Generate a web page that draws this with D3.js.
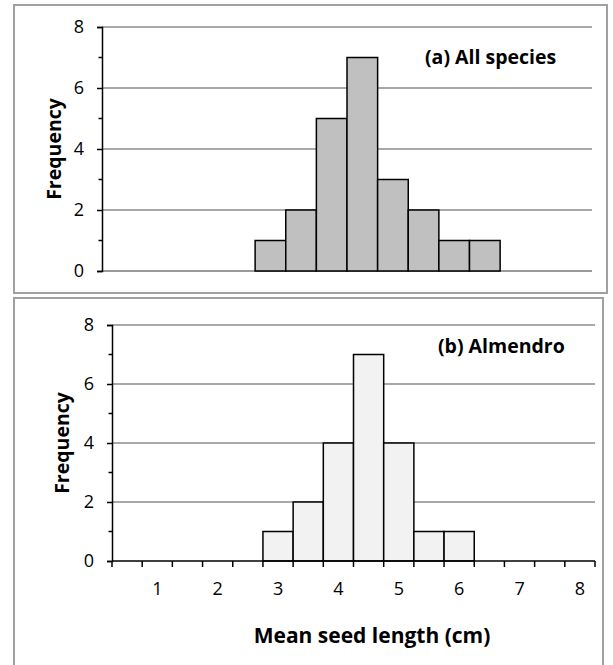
<!DOCTYPE html>
<html>
<head>
<meta charset="utf-8">
<script src="https://cdn.jsdelivr.net/npm/d3@7"></script>
<style>
  html, body { margin: 0; padding: 0; background: #ffffff; }
  svg { display: block; }
  text { font-family: "Open Sans", "Liberation Sans", sans-serif; fill: #000; }
</style>
</head>
<body>
<svg id="chart" width="613" height="665"></svg>
<script>
// ---- Data ----
const bins = [0.5, 1, 1.5, 2, 2.5, 3, 3.5, 4, 4.5, 5, 5.5, 6, 6.5, 7, 7.5, 8];
const allSpecies = [0, 0, 0, 0, 0, 1, 2, 5, 7, 3, 2, 1, 1, 0, 0, 0];
const almendro   = [0, 0, 0, 0, 0, 1, 2, 4, 7, 4, 1, 1, 0, 0, 0, 0];
const yMajorTicks = [0, 2, 4, 6, 8];
const yMinorTicks = [1, 3, 5, 7];
const xTickLabels = [1, 2, 3, 4, 5, 6, 7, 8];
const panelTitles = ["(a) All species", "(b) Almendro"];
const yTitle = "Frequency";
const xTitle = "Mean seed length (cm)";

const svg = d3.select("#chart");

function panel(cfg) {
  const g = svg.append("g");
  // frame
  g.append("rect")
    .attr("x", cfg.box[0]).attr("y", cfg.box[1])
    .attr("width", cfg.box[2]).attr("height", cfg.box[3])
    .attr("fill", "#fff").attr("stroke", "#a0a0a0").attr("stroke-width", 2);

  const x = d3.scaleBand().domain(bins).range([cfg.x0, cfg.x1]).padding(0);
  const y = d3.scaleLinear().domain([0, 8]).range([cfg.y0, cfg.y1]);

  // gridlines
  g.append("g").selectAll("line").data(yMajorTicks.filter(v => v > 0))
    .join("line")
    .attr("x1", cfg.x0).attr("x2", cfg.x1)
    .attr("y1", d => y(d)).attr("y2", d => y(d))
    .attr("stroke", "#8c8c8c").attr("stroke-width", 1.5);

  if (!cfg.showXAxis) {
    g.append("line").attr("x1", cfg.x0).attr("x2", cfg.x1)
      .attr("y1", y(0)).attr("y2", y(0))
      .attr("stroke", "#7a7a7a").attr("stroke-width", 1.5);
  }

  // bars
  const data = bins.map((b, i) => ({ b, v: cfg.values[i] })).filter(d => d.v > 0);
  g.append("g").selectAll("rect").data(data).join("rect")
    .attr("x", d => x(d.b)).attr("width", x.bandwidth())
    .attr("y", d => y(d.v)).attr("height", d => y(0) - y(d.v))
    .attr("fill", cfg.fill).attr("stroke", "#000").attr("stroke-width", 1.5);

  // y axis (major ticks)
  const yAxis = d3.axisLeft(y).tickValues(yMajorTicks).tickSize(5).tickPadding(13)
    .tickFormat(d3.format("d"));
  const ya = g.append("g").attr("transform", `translate(${cfg.x0},0)`).call(yAxis);
  ya.select(".domain").attr("stroke", "#000").attr("stroke-width", 1.5);
  ya.selectAll(".tick line").attr("stroke", "#000").attr("stroke-width", 1.5);
  ya.selectAll(".tick text").style("font-size", "18px").style("font-family", "Open Sans");
  // minor ticks
  g.append("g").selectAll("line").data(yMinorTicks).join("line")
    .attr("x1", cfg.x0 - 3.5).attr("x2", cfg.x0)
    .attr("y1", d => y(d)).attr("y2", d => y(d))
    .attr("stroke", "#000").attr("stroke-width", 1.5);

  if (cfg.showXAxis) {
    const xAxis = d3.axisBottom(x).tickSize(0).tickPadding(21)
      .tickFormat(d => xTickLabels.includes(d) ? String(d) : "");
    const xa = g.append("g").attr("transform", `translate(0,${y(0)})`).call(xAxis);
    xa.select(".domain").remove();
    xa.selectAll(".tick text").style("font-size", "18px").style("font-family", "Open Sans");
    // axis line
    g.append("line").attr("x1", cfg.x0).attr("x2", cfg.x1)
      .attr("y1", y(0)).attr("y2", y(0))
      .attr("stroke", "#000").attr("stroke-width", 1.5);
    // tick marks at category boundaries
    const edges = bins.map(b => x(b)).concat([x(bins[bins.length - 1]) + x.bandwidth()]);
    g.append("g").selectAll("line").data(edges).join("line")
      .attr("x1", d => d).attr("x2", d => d)
      .attr("y1", y(0)).attr("y2", y(0) + 6)
      .attr("stroke", "#000").attr("stroke-width", 1.5);
    g.append("text")
      .attr("x", cfg.xTitleX).attr("y", cfg.xTitleY)
      .attr("text-anchor", "middle")
      .style("font-size", "21px").style("font-weight", "bold")
      .text(xTitle);
  }

  // y title
  g.append("text")
    .attr("transform", `translate(${cfg.yTitleX},${(cfg.y0 + cfg.y1) / 2}) rotate(-90)`)
    .attr("text-anchor", "middle")
    .style("font-size", "19.5px").style("font-weight", "bold")
    .text(yTitle);

  // panel title
  g.append("text")
    .attr("x", cfg.titleX).attr("y", cfg.titleY)
    .style("font-size", "19.5px").style("font-weight", "bold")
    .text(cfg.title);
}

panel({
  box: [14, 5, 593, 288],
  x0: 102, x1: 592, y0: 271, y1: 27,
  values: allSpecies, fill: "#c0c0c0",
  showXAxis: false,
  yTitleX: 61, titleX: 425, titleY: 64,
  title: panelTitles[0]
});

panel({
  box: [14, 298, 589, 380],
  x0: 112, x1: 595, y0: 561, y1: 325,
  values: almendro, fill: "#f2f2f2",
  showXAxis: true, xTitleX: 372, xTitleY: 643,
  yTitleX: 69, titleX: 438, titleY: 353,
  title: panelTitles[1]
});
</script>
</body>
</html>
